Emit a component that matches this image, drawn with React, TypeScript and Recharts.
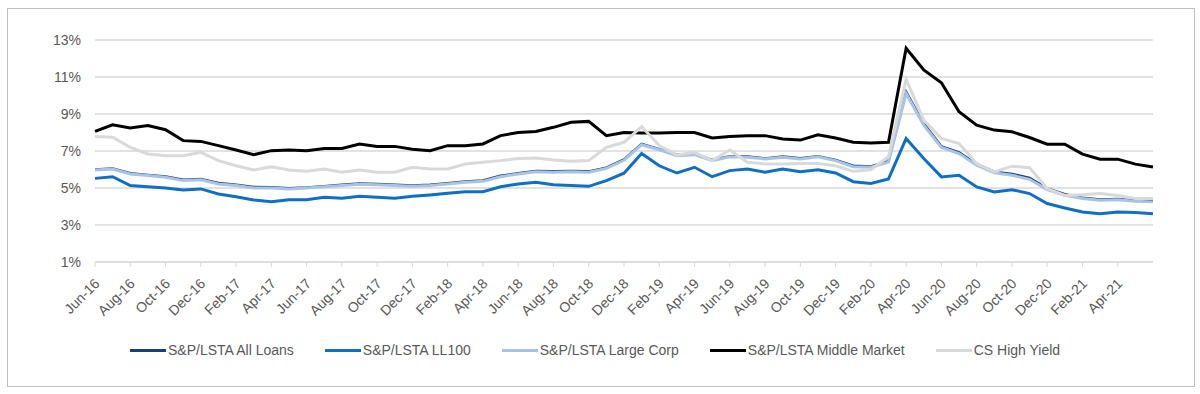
import { LineChart, Line, XAxis, YAxis, CartesianGrid } from 'recharts';

const months = [
  'Jun-16', 'Jul-16', 'Aug-16', 'Sep-16', 'Oct-16', 'Nov-16', 'Dec-16', 'Jan-17', 'Feb-17', 'Mar-17',
  'Apr-17', 'May-17', 'Jun-17', 'Jul-17', 'Aug-17', 'Sep-17', 'Oct-17', 'Nov-17', 'Dec-17', 'Jan-18',
  'Feb-18', 'Mar-18', 'Apr-18', 'May-18', 'Jun-18', 'Jul-18', 'Aug-18', 'Sep-18', 'Oct-18', 'Nov-18',
  'Dec-18', 'Jan-19', 'Feb-19', 'Mar-19', 'Apr-19', 'May-19', 'Jun-19', 'Jul-19', 'Aug-19', 'Sep-19',
  'Oct-19', 'Nov-19', 'Dec-19', 'Jan-20', 'Feb-20', 'Mar-20', 'Apr-20', 'May-20', 'Jun-20', 'Jul-20',
  'Aug-20', 'Sep-20', 'Oct-20', 'Nov-20', 'Dec-20', 'Jan-21', 'Feb-21', 'Mar-21', 'Apr-21', 'May-21',
  'Jun-21',
];

// axis labels every other month (Excel skips the last one)
const xTicks = [
  'Jun-16', 'Aug-16', 'Oct-16', 'Dec-16', 'Feb-17', 'Apr-17', 'Jun-17', 'Aug-17', 'Oct-17', 'Dec-17',
  'Feb-18', 'Apr-18', 'Jun-18', 'Aug-18', 'Oct-18', 'Dec-18', 'Feb-19', 'Apr-19', 'Jun-19', 'Aug-19',
  'Oct-19', 'Dec-19', 'Feb-20', 'Apr-20', 'Jun-20', 'Aug-20', 'Oct-20', 'Dec-20', 'Feb-21', 'Apr-21',
];

const yTicks = [1, 3, 5, 7, 9, 11, 13];

const allLoans = [
  6.0, 6.06, 5.8, 5.7, 5.62, 5.45, 5.48, 5.27, 5.18, 5.05,
  5.04, 4.99, 5.03, 5.1, 5.17, 5.24, 5.21, 5.17, 5.13, 5.17,
  5.26, 5.35, 5.41, 5.66, 5.8, 5.92, 5.9, 5.92, 5.9, 6.1,
  6.55, 7.38, 7.1, 6.8, 6.84, 6.52, 6.72, 6.7, 6.6, 6.7,
  6.61, 6.72, 6.52, 6.2, 6.16, 6.45, 10.2, 8.48, 7.25, 6.92,
  6.3, 5.88, 5.76, 5.55, 4.98, 4.66, 4.48, 4.38, 4.4, 4.32,
  4.28,
];

const ll100 = [
  5.52, 5.61, 5.13, 5.07, 5.0, 4.89, 4.95, 4.68, 4.53, 4.35,
  4.26, 4.37, 4.37, 4.5, 4.44, 4.55, 4.5, 4.44, 4.55, 4.62,
  4.71, 4.8, 4.8, 5.07, 5.22, 5.31, 5.18, 5.13, 5.09, 5.4,
  5.8, 6.87, 6.2, 5.81, 6.12, 5.61, 5.94, 6.03, 5.85, 6.03,
  5.88, 5.99, 5.81, 5.34, 5.25, 5.49, 7.68, 6.59, 5.6, 5.69,
  5.06, 4.79, 4.91, 4.7, 4.16, 3.92, 3.7, 3.61, 3.7, 3.67,
  3.61,
];

const largeCorp = [
  5.97, 6.03, 5.76, 5.67, 5.58, 5.4, 5.45, 5.22, 5.13, 5.0,
  5.0, 4.95, 5.0, 5.07, 5.13, 5.2, 5.18, 5.13, 5.09, 5.13,
  5.22, 5.31, 5.36, 5.61, 5.76, 5.88, 5.85, 5.88, 5.85, 6.06,
  6.5, 7.34, 7.07, 6.75, 6.8, 6.48, 6.69, 6.66, 6.57, 6.66,
  6.57, 6.69, 6.48, 6.15, 6.12, 6.4, 10.11, 8.4, 7.19, 6.86,
  6.23, 5.82, 5.69, 5.47, 4.91, 4.6, 4.43, 4.34, 4.37, 4.28,
  4.25,
];

const middleMarket = [
  8.06, 8.42, 8.24, 8.38, 8.15, 7.56, 7.52, 7.29, 7.05, 6.8,
  7.02, 7.05, 7.02, 7.14, 7.14, 7.38, 7.25, 7.25, 7.1, 7.02,
  7.29, 7.29, 7.38, 7.83, 8.0, 8.05, 8.28, 8.55, 8.6, 7.83,
  8.0, 7.97, 7.97, 8.0, 8.0, 7.7, 7.79, 7.83, 7.83, 7.65,
  7.59, 7.88, 7.7, 7.47, 7.43, 7.47, 12.55, 11.38, 10.69, 9.12,
  8.4, 8.13, 8.04, 7.73, 7.37, 7.37, 6.83, 6.56, 6.56, 6.29,
  6.14,
];

const csHighYield = [
  7.79, 7.74, 7.2, 6.84, 6.75, 6.75, 6.93, 6.48, 6.2, 5.97,
  6.15, 5.97, 5.9, 6.03, 5.85, 5.97, 5.85, 5.85, 6.12, 6.03,
  6.03, 6.3, 6.39, 6.48, 6.6, 6.62, 6.51, 6.44, 6.48, 7.2,
  7.47, 8.32, 7.29, 6.78, 6.93, 6.48, 7.05, 6.39, 6.3, 6.3,
  6.33, 6.33, 6.2, 5.9, 5.99, 6.7, 10.87, 8.67, 7.68, 7.4,
  6.32, 5.87, 6.18, 6.1, 4.97, 4.6, 4.64, 4.7, 4.6, 4.43,
  4.43,
];

const series = [
  { key: 'allLoans', name: 'S&P/LSTA All Loans', color: '#173F7C' },
  { key: 'll100', name: 'S&P/LSTA LL100', color: '#0F6FC6' },
  { key: 'largeCorp', name: 'S&P/LSTA Large Corp', color: '#A9C3E6' },
  { key: 'middleMarket', name: 'S&P/LSTA Middle Market', color: '#000000' },
  { key: 'csHighYield', name: 'CS High Yield', color: '#D9D9D9' },
];

const data = months.map((month, i) => ({
  month,
  allLoans: allLoans[i],
  ll100: ll100[i],
  largeCorp: largeCorp[i],
  middleMarket: middleMarket[i],
  csHighYield: csHighYield[i],
}));

const TEXT = '#595959';
const GRID = '#D9D9D9';

function XTick({ x, y, payload }: any) {
  return (
    <g transform={`translate(${x + 2},${y + 12})`}>
      <text textAnchor="end" fill={TEXT} fontSize={14} dy="0.35em" transform="rotate(-45)">
        {payload.value}
      </text>
    </g>
  );
}

export default function App() {
  return (
    <div
      style={{
        position: 'absolute',
        left: 0,
        top: 0,
        width: 1200,
        height: 394,
        background: '#fff',
        fontFamily: '"Liberation Sans", Arial, sans-serif',
      }}
    >
      {/* outer frame */}
      <div
        style={{
          position: 'absolute',
          left: 7,
          top: 8,
          width: 1186,
          height: 377,
          border: '1px solid #BFBFBF',
        }}
      />
      <LineChart
        width={1200}
        height={394}
        data={data}
        margin={{ top: 40, right: 47, left: 0, bottom: 72 }}
        style={{ position: 'absolute', left: 0, top: 0 }}
      >
        <CartesianGrid vertical={false} stroke={GRID} strokeWidth={1.3} />
        <XAxis
          dataKey="month"
          ticks={xTicks}
          interval={0}
          height={60}
          stroke={GRID}
          tickSize={5}
          tick={<XTick />}
        />
        <YAxis
          width={95}
          domain={[1, 13]}
          ticks={yTicks}
          axisLine={false}
          tickLine={false}
          tickSize={6}
          tickMargin={8}
          tick={{ fill: TEXT, fontSize: 14 }}
          tickFormatter={(v) => `${v}%`}
        />
        {series.map((s) => (
          <Line
            key={s.key}
            dataKey={s.key}
            name={s.name}
            type="linear"
            stroke={s.color}
            strokeWidth={s.key === 'allLoans' ? 2.5 : 3}
            dot={false}
            isAnimationActive={false}
          />
        ))}
      </LineChart>

      {/* legend */}
      <div
        style={{
          position: 'absolute',
          left: 130,
          top: 342,
          display: 'flex',
          gap: 31,
          fontSize: 14,
          color: TEXT,
          whiteSpace: 'nowrap',
        }}
      >
        {series.map((s) => (
          <div key={s.key} style={{ display: 'flex', alignItems: 'center', gap: 2 }}>
            <div style={{ width: 36, height: 3, background: s.color }} />
            <span>{s.name}</span>
          </div>
        ))}
      </div>
    </div>
  );
}
